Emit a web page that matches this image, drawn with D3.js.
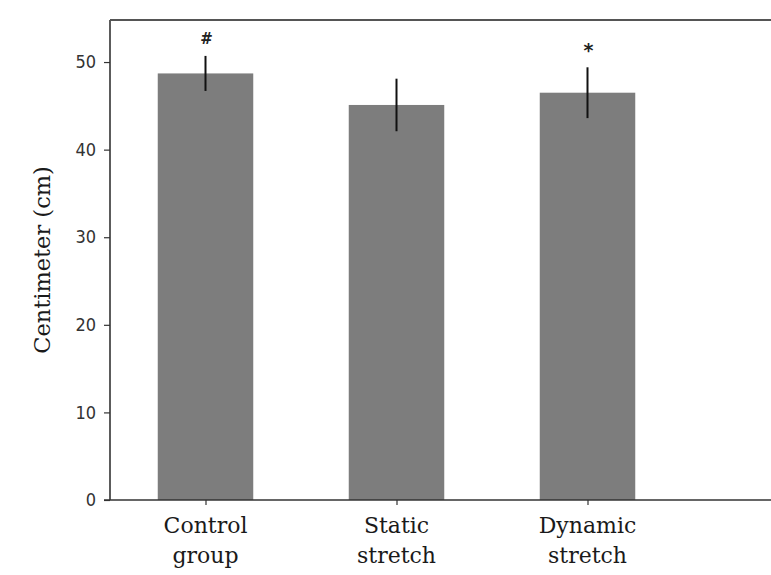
<!DOCTYPE html>
<html>
<head>
<meta charset="utf-8">
<script src="https://cdn.jsdelivr.net/npm/d3@7"></script>
<style>
  body { margin: 0; background: #fff; }
</style>
</head>
<body>
<div id="chart"></div>
<script>
// data
var groups = [["Control", "group"], ["Static", "stretch"], ["Dynamic", "stretch"]];
var means = [48.7, 45.1, 46.5];
var errors = [2.0, 3.0, 2.9];
var marks = ["#", "", "*"];
var yTicks = [0, 10, 20, 30, 40, 50];

var W = 771, H = 575;
var margin = {top: 20, left: 110, bottom: 75};

var svg = d3.select("#chart")
  .append("svg")
    .attr("width", W)
    .attr("height", H);

// x positions by category index, the plot runs off the right edge
var x = d3.scaleLinear()
  .domain([-0.5, 3])
  .range([margin.left, margin.left + 3.5 * 191]);

var y = d3.scaleLinear()
  .domain([0, 54.8])
  .range([H - margin.bottom, margin.top]);

var barW = x(0.5) - x(0);

// bars
svg.selectAll("rect.bar")
  .data(means)
  .enter()
  .append("rect")
    .attr("class", "bar")
    .attr("x", function(d, i) { return x(i) - barW / 2; })
    .attr("y", function(d) { return y(d); })
    .attr("width", barW)
    .attr("height", function(d) { return y(0) - y(d); })
    .attr("fill", "#7d7d7d");

// error bars
svg.selectAll("line.err")
  .data(means)
  .enter()
  .append("line")
    .attr("class", "err")
    .attr("x1", function(d, i) { return x(i); })
    .attr("x2", function(d, i) { return x(i); })
    .attr("y1", function(d, i) { return y(d - errors[i]); })
    .attr("y2", function(d, i) { return y(d + errors[i]); })
    .attr("stroke", "#111")
    .attr("stroke-width", 2);

// significance marks
svg.selectAll("text.mark")
  .data(marks)
  .enter()
  .append("text")
    .attr("class", "mark")
    .attr("x", function(d, i) { return x(i) + 1; })
    .attr("y", function(d, i) { return y(means[i] + errors[i]) - (i == 2 ? 10 : 12); })
    .attr("text-anchor", "middle")
    .style("font-family", "DejaVu Sans")
    .style("font-weight", "bold")
    .style("font-size", function(d) { return d == "*" ? "19px" : "15px"; })
    .style("fill", "#222")
    .text(function(d) { return d; });

// y axis
var yAxis = svg.append("g")
  .attr("transform", "translate(" + margin.left + ",0)")
  .call(d3.axisLeft(y).tickValues(yTicks).tickSize(6).tickPadding(8));
yAxis.select(".domain").remove();
yAxis.selectAll("line").attr("stroke", "#333").attr("stroke-width", 1.2);
yAxis.selectAll("text")
  .style("font-family", "DejaVu Sans Condensed, DejaVu Sans")
  .style("font-size", "18px")
  .style("fill", "#333");

// spines
svg.append("line")
  .attr("x1", margin.left).attr("x2", margin.left)
  .attr("y1", y.range()[1]).attr("y2", y(0))
  .attr("stroke", "#333").attr("stroke-width", 1.6);
svg.append("line")
  .attr("x1", margin.left).attr("x2", W)
  .attr("y1", y.range()[1]).attr("y2", y.range()[1])
  .attr("stroke", "#555").attr("stroke-width", 1.8);

// x axis
var xAxis = svg.append("g")
  .attr("transform", "translate(0," + y(0) + ")")
  .call(d3.axisBottom(x).tickValues([0, 1, 2]).tickSize(5).tickFormat(""));
xAxis.select(".domain").remove();
xAxis.selectAll("line").attr("stroke", "#333").attr("stroke-width", 1.2);
svg.append("line")
  .attr("x1", margin.left - 6).attr("x2", W)
  .attr("y1", y(0)).attr("y2", y(0))
  .attr("stroke", "#333").attr("stroke-width", 1.6);

// category labels, two lines each
var labels = svg.selectAll("text.cat")
  .data(groups)
  .enter()
  .append("text")
    .attr("class", "cat")
    .attr("x", function(d, i) { return x(i); })
    .attr("y", y(0) + 33)
    .attr("text-anchor", "middle")
    .style("font-family", "DejaVu Serif")
    .style("font-size", "22px")
    .style("fill", "#1a1a1a");
labels.selectAll("tspan")
  .data(function(d) { return d; })
  .enter()
  .append("tspan")
    .attr("x", function() { return d3.select(this.parentNode).attr("x"); })
    .attr("dy", function(d, j) { return j === 0 ? 0 : 30; })
    .text(function(d) { return d; });

// y label
svg.append("text")
  .attr("transform", "translate(50," + (y(0) + y.range()[1]) / 2 + ") rotate(-90)")
  .attr("text-anchor", "middle")
  .style("font-family", "DejaVu Serif")
  .style("font-size", "22.5px")
  .style("fill", "#1a1a1a")
  .text("Centimeter (cm)");
</script>
</body>
</html>
